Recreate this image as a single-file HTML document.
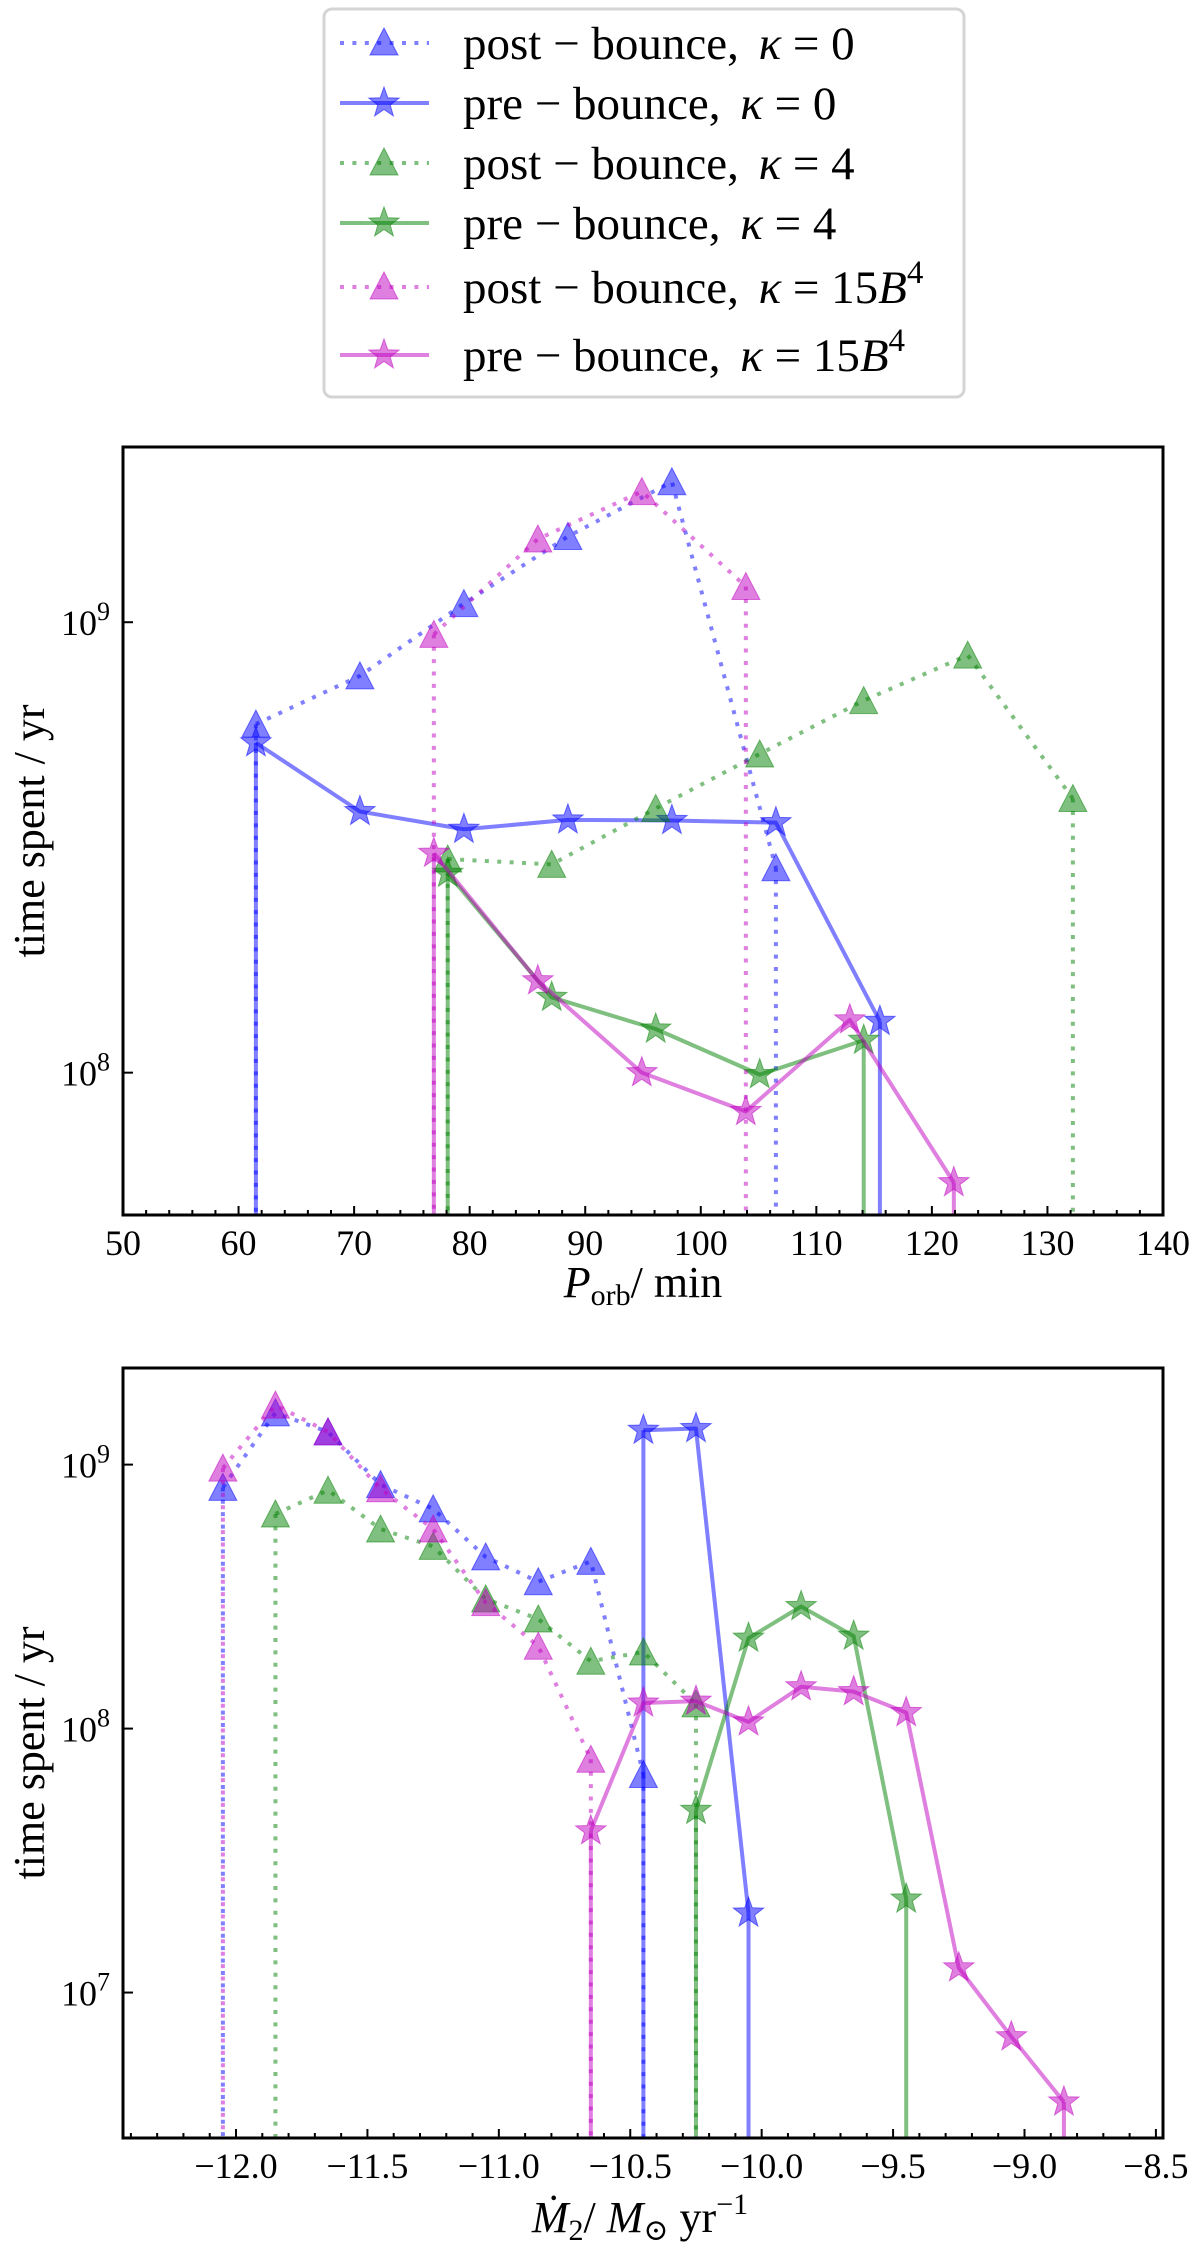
<!DOCTYPE html>
<html>
<head>
<meta charset="utf-8">
<style>
html,body{margin:0;padding:0;background:#fff;}
svg{display:block;}
text{font-family:"Liberation Serif","DejaVu Serif",serif;fill:#000;}
</style>
</head>
<body>
<svg id="fig" width="1200" height="2248" viewBox="0 0 1200 2248" xmlns="http://www.w3.org/2000/svg">
  <g id="legend"></g>
  <g id="p1"></g>
  <g id="p2"></g>
</svg>
<script>
// ---------- Panel 1 data (P_orb, minutes; time spent, yr) ----------
const p1BluePostX = [61.5, 70.5, 79.5, 88.5, 97.5, 106.5];
const p1BluePostY = [5.94e8, 7.6e8, 1.1e9, 1.55e9, 2.05e9, 2.85e8];
const p1BluePreX = [61.5, 70.5, 79.5, 88.5, 97.5, 106.5, 115.5];
const p1BluePreY = [5.4e8, 3.8e8, 3.47e8, 3.64e8, 3.63e8, 3.59e8, 1.3e8];
const p1GreenPostX = [78.1, 87.1, 96.1, 105.1, 114.1, 123.1, 132.2];
const p1GreenPostY = [2.98e8, 2.9e8, 3.86e8, 5.1e8, 6.7e8, 8.45e8, 4.06e8];
const p1GreenPreX = [78.1, 87.1, 96.1, 105.1, 114.1];
const p1GreenPreY = [2.77e8, 1.47e8, 1.25e8, 9.9e7, 1.18e8];
const p1PinkPostX = [76.9, 85.9, 94.9, 103.9];
const p1PinkPostY = [9.4e8, 1.53e9, 1.95e9, 1.2e9];
const p1PinkPreX = [76.9, 85.9, 94.9, 103.9, 112.9, 121.9];
const p1PinkPreY = [3.07e8, 1.6e8, 1.0e8, 8.2e7, 1.31e8, 5.7e7];
const p1XTicks = [50, 60, 70, 80, 90, 100, 110, 120, 130, 140];
const p1YTicks = [8, 9];

// ---------- Panel 2 data (log10 Mdot; time spent, yr) ----------
const p2BluePostX = [-12.05, -11.85, -11.65, -11.45, -11.25, -11.05, -10.85, -10.65, -10.45];
const p2BluePostY = [8.2e8, 1.57e9, 1.33e9, 8.4e8, 6.8e8, 4.47e8, 3.6e8, 4.3e8, 6.7e7];
const p2BluePreX = [-10.45, -10.25, -10.05];
const p2BluePreY = [1.35e9, 1.37e9, 2.0e7];
const p2GreenPostX = [-11.85, -11.65, -11.45, -11.25, -11.05, -10.85, -10.65, -10.45, -10.25];
const p2GreenPostY = [6.5e8, 8.0e8, 5.7e8, 4.9e8, 3.1e8, 2.6e8, 1.8e8, 1.95e8, 1.24e8];
const p2GreenPreX = [-10.25, -10.05, -9.85, -9.65, -9.45];
const p2GreenPreY = [4.9e7, 2.2e8, 2.9e8, 2.24e8, 2.26e7];
const p2PinkPostX = [-12.05, -11.85, -11.65, -11.45, -11.25, -11.05, -10.85, -10.65];
const p2PinkPostY = [9.7e8, 1.68e9, 1.33e9, 8.1e8, 5.7e8, 3.0e8, 2.05e8, 7.65e7];
const p2PinkPreX = [-10.65, -10.45, -10.25, -10.05, -9.85, -9.65, -9.45, -9.25, -9.05, -8.85];
const p2PinkPreY = [4.1e7, 1.25e8, 1.27e8, 1.06e8, 1.44e8, 1.38e8, 1.15e8, 1.24e7, 6.8e6, 3.85e6];
const p2XTicks = [-12.0, -11.5, -11.0, -10.5, -10.0, -9.5, -9.0, -8.5];
const p2YTicks = [7, 8, 9];

const legendLabels = ["post − bounce, ", "pre − bounce, ", "post − bounce, ", "pre − bounce, ", "post − bounce, ", "pre − bounce, "];
const legendKappa = ["0", "0", "4", "4", "15B", "15B"];

const NS = "http://www.w3.org/2000/svg";
const COL = {blue: "#0000ff", green: "#008000", pink: "#bf00bf"};

function mk(tag, attrs, parent) {
  const e = document.createElementNS(NS, tag);
  for (const k in attrs) e.setAttribute(k, attrs[k]);
  if (parent) parent.appendChild(e);
  return e;
}

function triPath(cx, cy) {
  return `M${cx},${cy-14} L${cx+14},${cy+13} L${cx-14},${cy+13} Z`;
}
function starPath(cx, cy) {
  let d = "";
  for (let i = 0; i < 10; i++) {
    const r = i % 2 === 0 ? 16 : 6.5;
    const a = -Math.PI / 2 + i * Math.PI / 5;
    d += (i ? "L" : "M") + (cx + r * Math.cos(a)).toFixed(1) + "," + (cy + r * Math.sin(a)).toFixed(1);
  }
  return d + "Z";
}

function makePanel(g, box, xmin, xmax, lmin, lmax, clipId) {
  const sx = v => box.x0 + (v - xmin) / (xmax - xmin) * (box.x1 - box.x0);
  const sy = v => box.y1 - (Math.log10(v) - lmin) / (lmax - lmin) * (box.y1 - box.y0);
  const defs = mk("defs", {}, g);
  const cp = mk("clipPath", {id: clipId}, defs);
  mk("rect", {x: box.x0, y: box.y0, width: box.x1 - box.x0, height: box.y1 - box.y0}, cp);
  const data = mk("g", {"clip-path": `url(#${clipId})`}, g);
  
  
  return {sx, sy, data};
}

function drawSeries(P, xs, ys, color, dotted, marker, name, box) {
  const g = mk("g", {}, P.data);
  
  
  const pts = xs.map((x, i) => [P.sx(x), P.sy(ys[i])]);
  const dash = dotted ? {"stroke-dasharray": "4 8.4"} : {};
  [pts[0], pts[pts.length - 1]].forEach(p => {
    const v = mk("line", Object.assign({x1: p[0], y1: p[1], x2: p[0], y2: box.y1 + 5, stroke: color, "stroke-width": 4, "stroke-opacity": 0.5}, dash), g);
    
    
  });
  const line = mk("polyline", Object.assign({points: pts.map(p => p.join(",")).join(" "), fill: "none", stroke: color, "stroke-width": 4, "stroke-opacity": 0.5, "stroke-linejoin": "round"}, dash), g);
  
  
  pts.forEach(p => {
    const m = mk("path", {d: marker === "tri" ? triPath(p[0], p[1]) : starPath(p[0], p[1]), fill: color, "fill-opacity": 0.5, stroke: color, "stroke-opacity": 0.5, "stroke-width": 1}, g);
    
    
  });
}

function drawAxes(g, P, box, xticks, xminor, fmt, yticks) {
  const ax = mk("g", {}, g);
  
  
  xminor.forEach(v => {
    const x = P.sx(v);
    mk("line", {x1: x, x2: x, y1: box.y1, y2: box.y1 - 5, stroke: "#000", "stroke-width": 2}, ax);
  });
  xticks.forEach(v => {
    const x = P.sx(v);
    mk("line", {x1: x, x2: x, y1: box.y1, y2: box.y1 - 9, stroke: "#000", "stroke-width": 2}, ax);
    const t = mk("text", {x: x, y: box.y1 + 40, "text-anchor": "middle", "font-size": 36}, ax);
    t.textContent = fmt(v);
    
    
  });
  yticks.forEach(e => {
    const y = P.sy(Math.pow(10, e));
    mk("line", {x1: box.x0, x2: box.x0 + 10, y1: y, y2: y, stroke: "#000", "stroke-width": 2}, ax);
    const t = mk("text", {x: 110, y: y + 13, "text-anchor": "end", "font-size": 36}, ax);
    t.textContent = "10";
    const s = mk("tspan", {dy: -15, "font-size": 26}, t);
    s.textContent = String(e);
    
    
  });
  mk("rect", {x: box.x0, y: box.y0, width: box.x1 - box.x0, height: box.y1 - box.y0, fill: "none", stroke: "#000", "stroke-width": 3}, ax);
  const yl = mk("text", {x: 0, y: 0, transform: `translate(44,${(box.y0 + box.y1) / 2}) rotate(-90)`, "text-anchor": "middle", "font-size": 44}, ax);
  yl.textContent = "time spent / yr";
  
  
}

// ---------- Legend ----------
(function () {
  const L = document.getElementById("legend");
  mk("rect", {x: 324, y: 9, width: 640, height: 388, rx: 8, fill: "#fff", stroke: "#d4d4d4", "stroke-width": 3}, L);
  const rows = [43, 103, 163, 223, 287, 355];
  const colors = [COL.blue, COL.blue, COL.green, COL.green, COL.pink, COL.pink];
  rows.forEach((y, i) => {
    const dotted = i % 2 === 0;
    const e = mk("g", {}, L);
    
    
    mk("line", Object.assign({x1: 340, x2: 429, y1: y, y2: y, stroke: colors[i], "stroke-width": 4, "stroke-opacity": 0.5}, dotted ? {"stroke-dasharray": "4 8.4"} : {}), e);
    mk("path", {d: dotted ? triPath(384, y - 1) : starPath(384, y), fill: colors[i], "fill-opacity": 0.5, stroke: colors[i], "stroke-opacity": 0.5}, e);
    const t = mk("text", {x: 463, y: y + 16, "font-size": 47}, e);
    t.textContent = legendLabels[i];
    const k = mk("tspan", {"font-style": "italic", dx: 8}, t);
    k.textContent = "κ";
    const eq = mk("tspan", {}, t);
    eq.textContent = "  =  " + legendKappa[i].replace("B", "");
    if (legendKappa[i].indexOf("B") >= 0) {
      const b = mk("tspan", {"font-style": "italic"}, t);
      b.textContent = "B";
      const sup = mk("tspan", {dy: -20, "font-size": 33}, t);
      sup.textContent = "4";
    }
  });
})();

// ---------- Panel 1 ----------
(function () {
  const g = document.getElementById("p1");
  const box = {x0: 123, x1: 1163, y0: 447, y1: 1215};
  const P = makePanel(g, box, 50, 140, 7.684, 9.389, "c1");
  drawSeries(P, p1BluePostX, p1BluePostY, COL.blue, true, "tri", "blue-post-bounce", box);
  drawSeries(P, p1BluePreX, p1BluePreY, COL.blue, false, "star", "blue-pre-bounce", box);
  drawSeries(P, p1GreenPostX, p1GreenPostY, COL.green, true, "tri", "green-post-bounce", box);
  drawSeries(P, p1GreenPreX, p1GreenPreY, COL.green, false, "star", "green-pre-bounce", box);
  drawSeries(P, p1PinkPostX, p1PinkPostY, COL.pink, true, "tri", "pink-post-bounce", box);
  drawSeries(P, p1PinkPreX, p1PinkPreY, COL.pink, false, "star", "pink-pre-bounce", box);
  const minor = [];
  for (let v = 52; v < 140; v += 2) if (v % 10 !== 0) minor.push(v);
  drawAxes(g, P, box, p1XTicks, minor, v => String(v), p1YTicks);
  const xl = mk("text", {x: 643, y: 1297, "text-anchor": "middle", "font-size": 44}, g);
  
  
  const a = mk("tspan", {"font-style": "italic"}, xl); a.textContent = "P";
  const b = mk("tspan", {dy: 8, "font-size": 30}, xl); b.textContent = "orb";
  const c = mk("tspan", {dy: -8}, xl); c.textContent = "/ min";
})();

// ---------- Panel 2 ----------
(function () {
  const g = document.getElementById("p2");
  const box = {x0: 123, x1: 1163, y0: 1368, y1: 2138};
  const P = makePanel(g, box, -12.43, -8.473, 6.449, 9.366, "c2");
  drawSeries(P, p2BluePostX, p2BluePostY, COL.blue, true, "tri", "blue-post-bounce", box);
  drawSeries(P, p2BluePreX, p2BluePreY, COL.blue, false, "star", "blue-pre-bounce", box);
  drawSeries(P, p2GreenPostX, p2GreenPostY, COL.green, true, "tri", "green-post-bounce", box);
  drawSeries(P, p2GreenPreX, p2GreenPreY, COL.green, false, "star", "green-pre-bounce", box);
  drawSeries(P, p2PinkPostX, p2PinkPostY, COL.pink, true, "tri", "pink-post-bounce", box);
  drawSeries(P, p2PinkPreX, p2PinkPreY, COL.pink, false, "star", "pink-pre-bounce", box);
  const minor = [];
  for (let i = -124; i <= -85; i++) if (i % 5 !== 0) minor.push(i / 10);
  drawAxes(g, P, box, p2XTicks, minor, v => "−" + Math.abs(v).toFixed(1), p2YTicks);
  const xl = mk("text", {x: 640, y: 2232, "text-anchor": "middle", "font-size": 44}, g);
  
  
  const a = mk("tspan", {"font-style": "italic"}, xl); a.textContent = "Ṁ";
  const b = mk("tspan", {dy: 8, "font-size": 30}, xl); b.textContent = "2";
  const c = mk("tspan", {dy: -8}, xl); c.textContent = "/ ";
  const d = mk("tspan", {"font-style": "italic"}, xl); d.textContent = "M";
  const e = mk("tspan", {dy: 8, "font-size": 30}, xl); e.textContent = "⊙";
  const f = mk("tspan", {dy: -8}, xl); f.textContent = " yr";
  const h = mk("tspan", {dy: -18, "font-size": 30}, xl); h.textContent = "−1";
})();
</script>
</body>
</html>
